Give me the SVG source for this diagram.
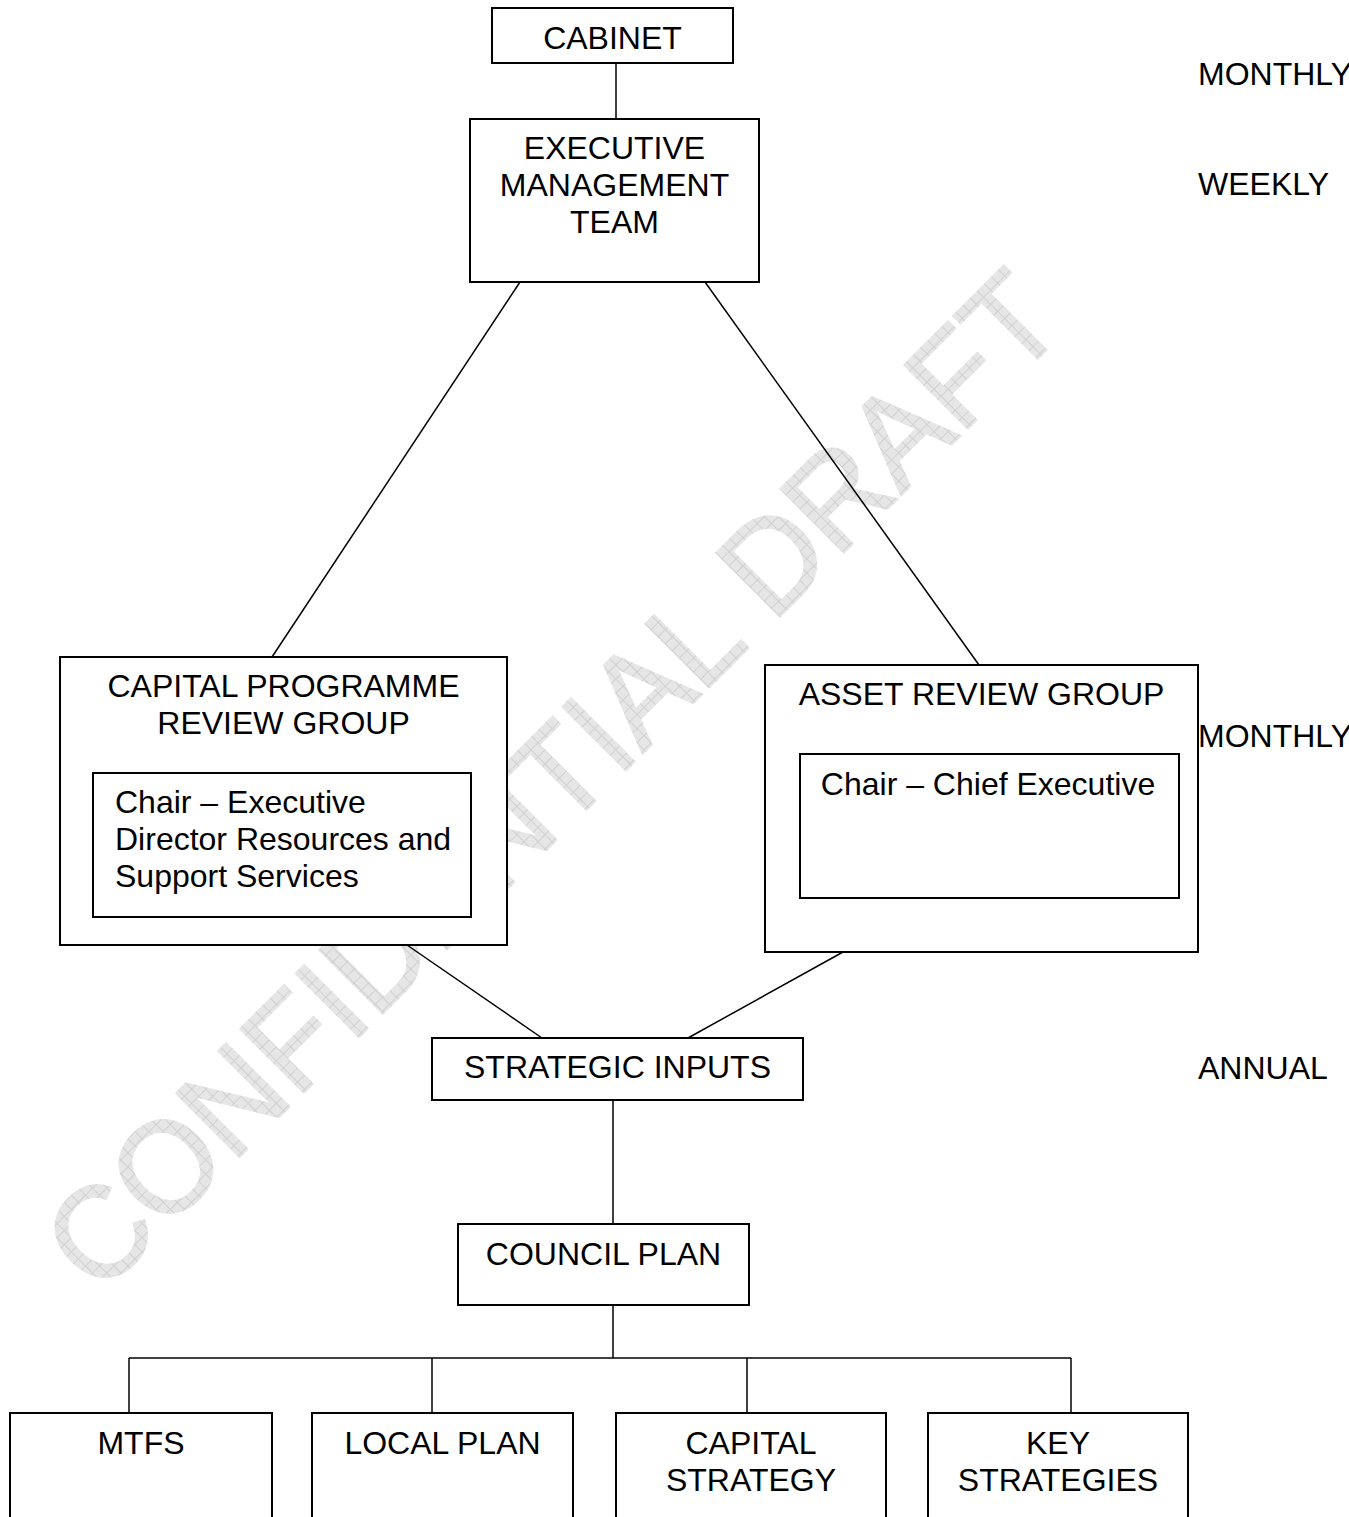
<svg xmlns="http://www.w3.org/2000/svg" width="1349" height="1517" viewBox="0 0 1349 1517">
<defs>
<pattern id="wm" patternUnits="userSpaceOnUse" width="10" height="10">
<rect width="10" height="10" fill="#e6e6e6"/>
<path d="M0 0.5H10M0.5 0V10" stroke="#d0d0d0" stroke-width="1"/>
</pattern>
<style>
.box{fill:#ffffff;stroke:#000000;stroke-width:2}
.ln{fill:none;stroke:#000000;stroke-width:1.5}
.t{font-family:"Liberation Sans",Arial,sans-serif;font-size:32px;fill:#000000}
.c{text-anchor:middle}
.wm{font-family:"Liberation Sans",Arial,sans-serif;font-size:130px;fill:url(#wm);stroke:url(#wm);stroke-width:2.5}
</style>
</defs>
<rect width="1349" height="1517" fill="#ffffff"/>
<g id="watermark">
<text class="wm" x="584" y="812" text-anchor="middle" textLength="1372" lengthAdjust="spacingAndGlyphs" transform="rotate(-45 584 812)">CONFIDENTIAL DRAFT</text>
</g>
<g id="connectors">
<line class="ln" x1="616" y1="63" x2="616" y2="119"/>
<line class="ln" x1="520" y1="282" x2="272" y2="657"/>
<line class="ln" x1="705" y1="282" x2="979" y2="665"/>
<line class="ln" x1="407" y1="945" x2="542" y2="1038"/>
<line class="ln" x1="843" y1="952" x2="688" y2="1038"/>
<line class="ln" x1="613" y1="1100" x2="613" y2="1224"/>
<line class="ln" x1="613" y1="1305" x2="613" y2="1358"/>
<line class="ln" x1="129" y1="1358" x2="1071" y2="1358"/>
<line class="ln" x1="129" y1="1358" x2="129" y2="1413"/>
<line class="ln" x1="432" y1="1358" x2="432" y2="1413"/>
<line class="ln" x1="747" y1="1358" x2="747" y2="1413"/>
<line class="ln" x1="1071" y1="1358" x2="1071" y2="1413"/>
</g>
<g id="cabinet">
<rect class="box" x="492" y="8" width="241" height="55"/>
<text class="t c" x="612.5" y="49">CABINET</text>
</g>
<g id="emt">
<rect class="box" x="470" y="119" width="289" height="163"/>
<text class="t c" x="614.5" y="159">EXECUTIVE</text>
<text class="t c" x="614.5" y="196">MANAGEMENT</text>
<text class="t c" x="614.5" y="233">TEAM</text>
</g>
<g id="cprg">
<rect class="box" x="60" y="657" width="447" height="288"/>
<text class="t c" x="283.5" y="697">CAPITAL PROGRAMME</text>
<text class="t c" x="283.5" y="734">REVIEW GROUP</text>
<rect class="box" x="93" y="773" width="378" height="144"/>
<text class="t" x="115" y="813">Chair – Executive</text>
<text class="t" x="115" y="850">Director Resources and</text>
<text class="t" x="115" y="887">Support Services</text>
</g>
<g id="arg">
<rect class="box" x="765" y="665" width="433" height="287"/>
<text class="t c" x="981.5" y="705">ASSET REVIEW GROUP</text>
<rect class="box" x="800" y="754" width="379" height="144"/>
<text class="t c" x="988" y="795">Chair – Chief Executive</text>
</g>
<g id="strategic-inputs">
<rect class="box" x="432" y="1038" width="371" height="62"/>
<text class="t c" x="617.5" y="1078">STRATEGIC INPUTS</text>
</g>
<g id="council-plan">
<rect class="box" x="458" y="1224" width="291" height="81"/>
<text class="t c" x="603.5" y="1265">COUNCIL PLAN</text>
</g>
<g id="mtfs">
<rect class="box" x="10" y="1413" width="262" height="120"/>
<text class="t c" x="141" y="1454">MTFS</text>
</g>
<g id="local-plan">
<rect class="box" x="312" y="1413" width="261" height="120"/>
<text class="t c" x="442.5" y="1454">LOCAL PLAN</text>
</g>
<g id="capital-strategy">
<rect class="box" x="616" y="1413" width="270" height="120"/>
<text class="t c" x="751" y="1454">CAPITAL</text>
<text class="t c" x="751" y="1491">STRATEGY</text>
</g>
<g id="key-strategies">
<rect class="box" x="928" y="1413" width="260" height="120"/>
<text class="t c" x="1058" y="1454">KEY</text>
<text class="t c" x="1058" y="1491">STRATEGIES</text>
</g>
<g id="frequency-labels">
<text class="t" x="1198" y="85">MONTHLY</text>
<text class="t" x="1198" y="195">WEEKLY</text>
<text class="t" x="1198" y="747">MONTHLY</text>
<text class="t" x="1198" y="1079">ANNUAL</text>
</g>
</svg>
